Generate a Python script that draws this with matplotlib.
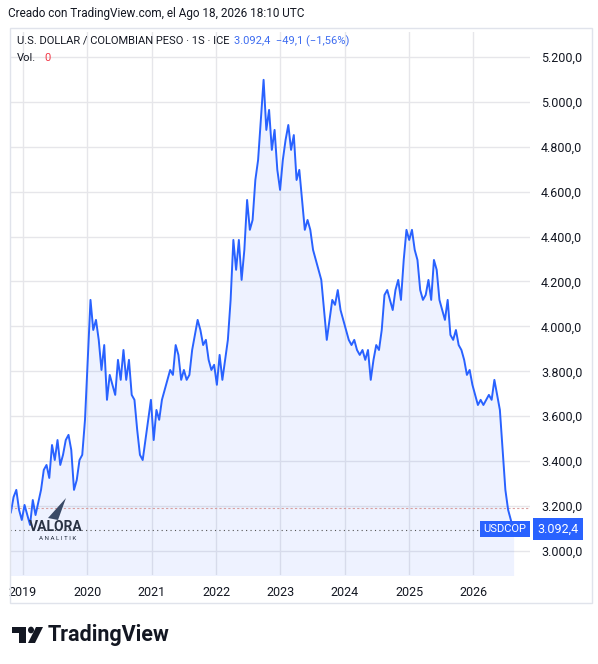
import matplotlib
matplotlib.use("Agg")
import matplotlib.pyplot as plt
import matplotlib.patches as mpatches
import numpy as np
import pandas as pd

values = [3183, 3170, 3240, 3272, 3183, 3138, 3205, 3160, 3116, 3227, 3160, 3216, 3272, 3361, 3383,
          3325, 3472, 3405, 3494, 3383, 3428, 3494, 3517, 3450, 3272, 3316, 3405, 3428, 3584, 3850,
          4118, 3984, 4029, 3940, 3806, 3917, 3673, 3784, 3740, 3695, 3851, 3762, 3895, 3762, 3851,
          3695, 3673, 3539, 3428, 3405, 3494, 3584, 3673, 3494, 3628, 3584, 3673, 3717, 3762, 3806,
          3784, 3917, 3873, 3762, 3806, 3762, 3784, 3895, 3962, 4029, 3984, 3917, 3940, 3851, 3806,
          3829, 3740, 3873, 3762, 3851, 3940, 4118, 4385, 4252, 4385, 4207, 4341, 4563, 4430, 4474,
          4652, 4741, 4919, 5098, 4875, 4964, 4786, 4875, 4697, 4608, 4741, 4830, 4897, 4786, 4852,
          4652, 4697, 4563, 4430, 4474, 4430, 4341, 4296, 4252, 4207, 4073, 3940, 4029, 4118, 4096,
          4162, 4073, 4029, 3984, 3940, 3917, 3940, 3895, 3873, 3895, 3851, 3895, 3762, 3851, 3917,
          3895, 3984, 4140, 4162, 4118, 4073, 4162, 4207, 4118, 4296, 4430, 4385, 4430, 4341, 4296,
          4162, 4118, 4140, 4207, 4118, 4296, 4252, 4118, 4073, 4029, 4118, 3962, 3940, 3984, 3917,
          3895, 3851, 3784, 3806, 3740, 3695, 3650, 3673, 3650, 3673, 3695, 3673, 3762, 3695, 3628,
          3450, 3272, 3183, 3138, 3092.4]
dates = pd.date_range("2018-10-08", "2026-08-17", periods=len(values))
last = 3092.4
year_ticks = list(range(2019, 2027))
yticks = list(range(3000, 5201, 200))

def fmt(v):
    s = f"{v:,.1f}"
    return s.replace(",", "X").replace(".", ",").replace("X", ".")

plt.rcParams['font.family'] = ['Roboto', 'DejaVu Sans']
W, H = 598, 664
fig = plt.figure(figsize=(W/100, H/100), dpi=100)
ax = fig.add_axes([10/W, 1-575/H, 520/W, 543/H])
blue = "#2962ff"
ax.plot(dates, values, color=blue, lw=1.4, zorder=3)
ax.fill_between(dates, values, 2800, color=blue, alpha=0.08, lw=0, zorder=2)
ax.set_xlim(pd.Timestamp("2018-10-19"), pd.Timestamp("2026-11-18"))
ax.set_ylim(2893, 5311)
ax.set_xticks([pd.Timestamp(f"{y}-01-01") for y in year_ticks])
ax.set_xticklabels([str(y) for y in year_ticks])
ax.set_yticks(yticks)
ax.set_yticklabels([fmt(v) for v in yticks])
ax.yaxis.tick_right()
ax.grid(True, color="#e6e6ea", lw=1)
ax.tick_params(length=0, labelsize=9, colors="#131722")
ax.tick_params(axis="x", pad=8)
ax.tick_params(axis="y", pad=8)
for s in ax.spines.values():
    s.set_visible(False)
ax.axhline(last, color="#555", lw=0.8, ls=(0, (1, 3)), zorder=2)
ax.axhline(3190, color="#d9a0a0", lw=0.8, ls=(0, (2, 2)), zorder=2)

fig.patches.append(mpatches.Rectangle((10/W, 1-603/H), 582/W, 575/H, transform=fig.transFigure,
                                      fill=False, ec="#e0e3eb", lw=1))

fig.text(8/W, 1-14/H, "Creado con TradingView.com, el Ago 18, 2026 18:10 UTC", fontsize=8.5,
         color="#131722", va="center")
fig.text(17/W, 1-41/H, "U.S. DOLLAR / COLOMBIAN PESO · 1S · ICE", fontsize=8, color="#131722", va="center")
fig.text(234/W, 1-41/H, "3.092,4  −49,1 (−1,56%)", fontsize=8, color="#3d6cf0", va="center")
fig.text(17/W, 1-58/H, "Vol.", fontsize=8, color="#131722", va="center")
fig.text(44/W, 1-58/H, "0", fontsize=8, color="#f23645", va="center")

y_last = 1-529/H
fig.text(505/W, y_last, "USDCOP", fontsize=8, color="white", ha="center", va="center",
         bbox=dict(boxstyle="square,pad=0.3", fc=blue, ec="none"))
fig.text(558/W, y_last, "3.092,4", fontsize=9, color="white", ha="center", va="center",
         bbox=dict(boxstyle="square,pad=0.35", fc=blue, ec="none"))

fig.text(56/W, 1-527/H, "VALORA", fontsize=10, fontweight="bold", color="#2a3344", ha="center", va="center")
fig.text(58/W, 1-539/H, "A N A L I T I K", fontsize=4.5, color="#2a3344", ha="center", va="center")
fig.patches.append(mpatches.Polygon([(48/W, 1-518/H), (66/W, 1-498/H), (58/W, 1-520/H)],
                                    transform=fig.transFigure, fc="#3a4a66", ec="none"))

k = "#131722"
fig.patches.append(mpatches.Rectangle((12/W, 1-633/H), 14/W, 6/H, transform=fig.transFigure, fc=k, ec="none"))
fig.patches.append(mpatches.Rectangle((19/W, 1-643/H), 7/W, 16/H, transform=fig.transFigure, fc=k, ec="none"))
fig.patches.append(mpatches.Circle((31/W, 1-630/H), 3/W, transform=fig.transFigure, fc=k, ec="none"))
fig.patches.append(mpatches.Polygon([(36/W, 1-627/H), (43/W, 1-627/H), (35/W, 1-643/H), (28/W, 1-643/H)],
                                    transform=fig.transFigure, fc=k, ec="none"))
fig.text(48/W, 1-635/H, "TradingView", fontsize=15.5, fontweight="bold", color=k, va="center")

fig.savefig("out.png", dpi=100)
